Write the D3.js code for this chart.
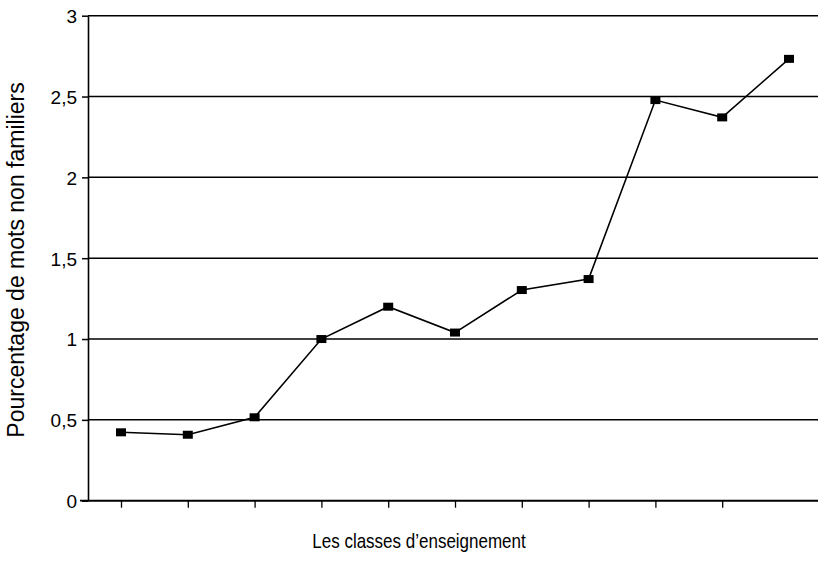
<!DOCTYPE html>
<html>
<head>
<meta charset="utf-8">
<script src="https://cdn.jsdelivr.net/npm/d3@7"></script>
<style>
  body { margin: 0; background: #fff; }
  svg { display: block; }
  .axis path, .axis line { stroke: #000; }
  .grid line { stroke: #000; stroke-width: 1.5; }
</style>
</head>
<body>
<div id="chart"></div>
<script>
const WIDTH = 819, HEIGHT = 561;

// classes d'enseignement (no labels on the axis)
const classes = [1, 2, 3, 4, 5, 6, 7, 8, 9, 10, 11];
const pourcentages = [0.423, 0.408, 0.516, 1.0, 1.2, 1.04, 1.303, 1.371, 2.478, 2.371, 2.733];
const yTicks = [0, 0.5, 1, 1.5, 2, 2.5, 3];
const xTicks = classes.slice(0, 10); // last tick lost in the scan

const svg = d3.select('#chart').append('svg')
    .attr('width', WIDTH)
    .attr('height', HEIGHT);

const axisX = 88, axisRight = 818;

const x = d3.scaleLinear().domain([1, 11]).range([121, 789]);
const y = d3.scaleLinear().domain([0, 3]).range([500.7, 15.7]);

// grid lines
svg.append('g').attr('class', 'grid')
    .selectAll('line')
    .data(yTicks)
    .join('line')
    .attr('x1', axisX)
    .attr('x2', axisRight)
    .attr('y1', d => y(d))
    .attr('y2', d => y(d));

// y axis
const yAxis = svg.append('g')
    .attr('class', 'axis y')
    .attr('transform', `translate(${axisX},0)`)
    .call(d3.axisLeft(y).tickValues(yTicks).tickSize(6).tickSizeOuter(0)
        .tickFormat(d => String(d).replace('.', ',')));
yAxis.select('.domain').attr('stroke-width', 1.6);
yAxis.selectAll('line').attr('stroke-width', 1.5);
yAxis.selectAll('text')
    .attr('fill', '#000')
    .attr('x', -11)
    .attr('dy', '0.36em')
    .style('font-family', '"Liberation Sans", Arial, sans-serif')
    .style('font-size', '19px');

// x axis
const xAxis = svg.append('g')
    .attr('class', 'axis x')
    .attr('transform', `translate(0,${y(0)})`)
    .call(d3.axisBottom(x).tickValues(xTicks).tickSize(7).tickFormat(''));
xAxis.select('.domain').attr('d', `M${axisX - 8},0H${axisRight}`).attr('stroke-width', 1.8);
xAxis.selectAll('line').attr('stroke-width', 1.3);

// line + markers
const line = d3.line()
    .x((d, i) => x(classes[i]))
    .y(d => y(d));

svg.append('path')
    .datum(pourcentages)
    .attr('d', line)
    .attr('fill', 'none')
    .attr('stroke', '#000')
    .attr('stroke-width', 1.6);

svg.append('g')
    .selectAll('rect')
    .data(pourcentages)
    .join('rect')
    .attr('x', (d, i) => x(classes[i]) - 5)
    .attr('y', d => y(d) - 4)
    .attr('width', 10)
    .attr('height', 8)
    .attr('fill', '#000');

// axis titles
svg.append('text')
    .attr('transform', 'translate(419,548) scale(1,1.22)')
    .attr('text-anchor', 'middle')
    .style('font-family', '"Liberation Sans", Arial, sans-serif')
    .style('font-size', '17px')
    .text('Les classes d\u2019enseignement');

svg.append('text')
    .attr('transform', 'translate(24,260) rotate(-90)')
    .attr('text-anchor', 'middle')
    .style('font-family', '"Liberation Sans", Arial, sans-serif')
    .style('font-size', '23px')
    .text('Pourcentage de mots non familiers');
</script>
</body>
</html>
